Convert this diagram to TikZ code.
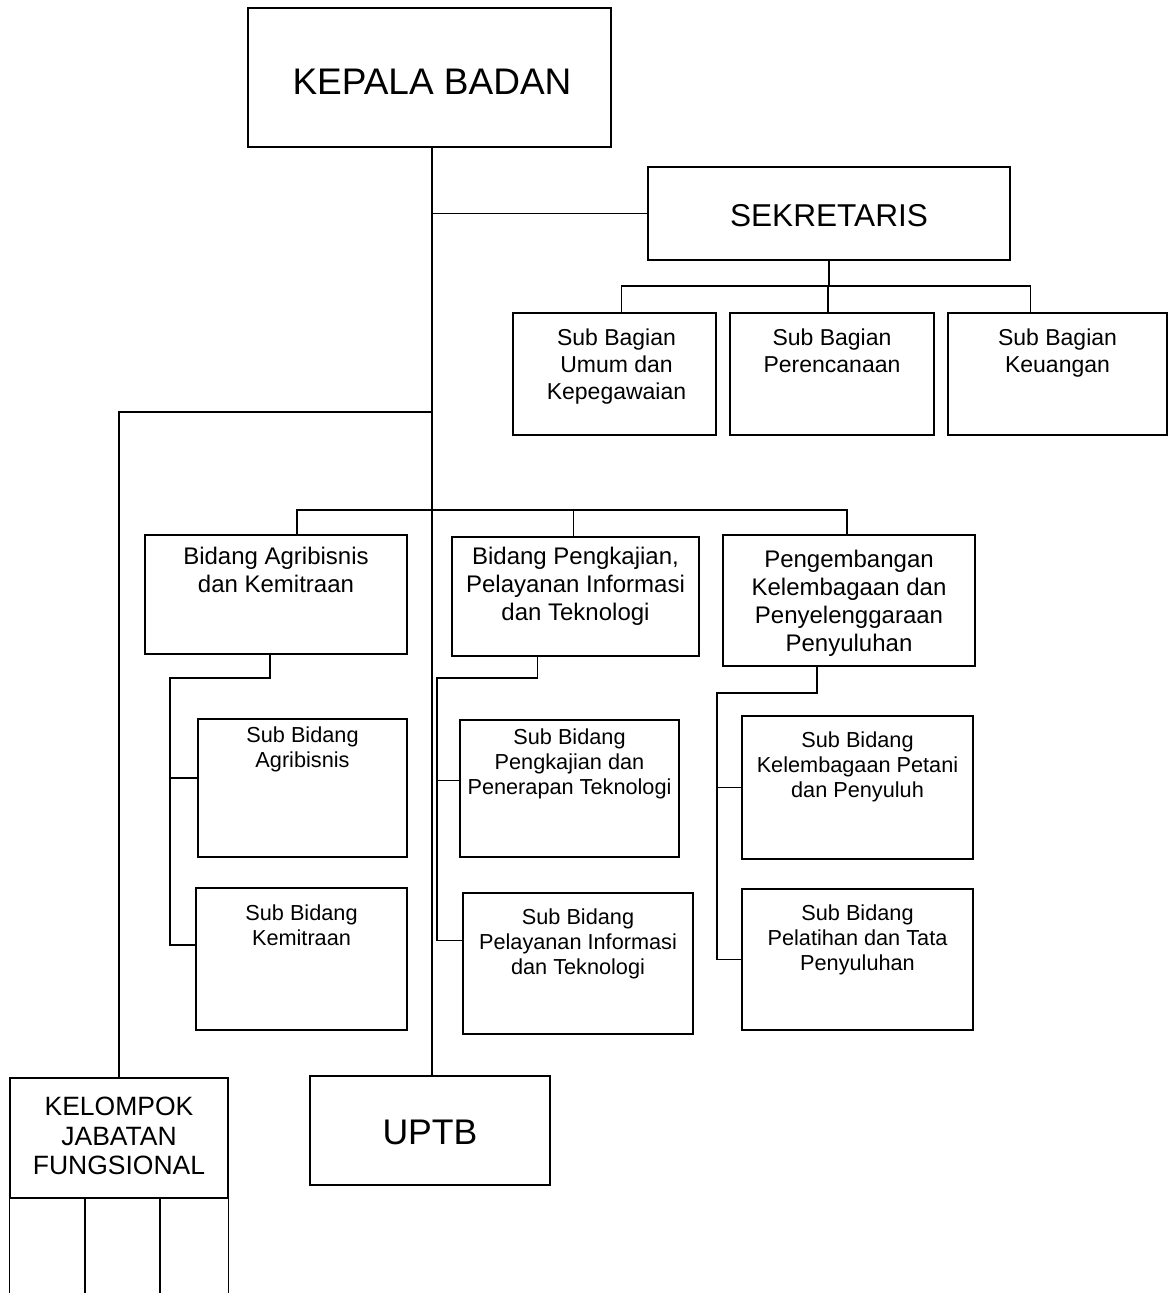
\documentclass[tikz,border=0pt]{standalone}
\usepackage{fontspec}
\setmainfont{Liberation Sans}
\usetikzlibrary{fit}
\begin{document}
\begin{tikzpicture}[x=1pt,y=-1pt,
  box/.style={draw, line width=1.3pt, inner sep=0pt},
  ln/.style={line width=1.3pt},
  txt/.style={anchor=north, align=center, inner sep=0pt},
  fsub/.style={font=\fontsize{23}{27}\selectfont},
  fsbd/.style={font=\fontsize{21.7}{25}\selectfont},
  fbid/.style={font=\fontsize{24}{28}\selectfont}]
\useasboundingbox (0,0) rectangle (1170,1293);
\fill[white] (0,0) rectangle (1170,1293);

% boxes
\node[box, fit={(248,8) (611,147)}] (kb) {};
\node[box, fit={(648,167) (1010,260)}] (sek) {};
\node[box, fit={(513,313) (716,435)}] (sb1) {};
\node[box, fit={(730,313) (934,435)}] (sb2) {};
\node[box, fit={(948,313) (1167,435)}] (sb3) {};
\node[box, fit={(145,535) (407,654)}] (bd1) {};
\node[box, fit={(452,537) (699,656)}] (bd2) {};
\node[box, fit={(723,535) (975,666)}] (bd3) {};
\node[box, fit={(198,719) (407,857)}] (sa1) {};
\node[box, fit={(196,888) (407,1030)}] (sa2) {};
\node[box, fit={(460,720) (679,857)}] (sp1) {};
\node[box, fit={(463,893) (693,1034)}] (sp2) {};
\node[box, fit={(742,716) (973,859)}] (sk1) {};
\node[box, fit={(742,889) (973,1030)}] (sk2) {};
\node[box, fit={(10,1078) (228,1198)}] (kjf) {};
\node[box, fit={(310,1076) (550,1185)}] (uptb) {};

% texts
\node[inner sep=0pt, font=\fontsize{37}{40}\selectfont] (tkb) at ([xshift=2.5,yshift=-4.5]kb.center) {KEPALA BADAN};
\node[inner sep=0pt, font=\fontsize{31.6}{34}\selectfont] (tsek) at ([yshift=-2.5]sek.center) {SEKRETARIS};
\node[inner sep=0pt, font=\fontsize{35.6}{38}\selectfont] (tuptb) at ([yshift=-1.5]uptb.center) {UPTB};
\node[txt, font=\fontsize{26.5}{29.5}\selectfont] (tkjf) at ([yshift=-19.5]kjf.north) {KELOMPOK\\JABATAN\\FUNGSIONAL};

\node[txt, fsub] (tsb1) at ([xshift=2,yshift=-16]sb1.north) {Sub Bagian\\Umum dan\\Kepegawaian};
\node[txt, fsub] (tsb2) at ([yshift=-16]sb2.north) {Sub Bagian\\Perencanaan};
\node[txt, fsub] (tsb3) at ([yshift=-16]sb3.north) {Sub Bagian\\Keuangan};

\node[txt, fbid] (tbd1) at ([yshift=-13]bd1.north) {Bidang Agribisnis\\dan Kemitraan};
\node[txt, fbid] (tbd2) at ([yshift=-11]bd2.north) {Bidang Pengkajian,\\Pelayanan Informasi\\dan Teknologi};
\node[txt, fbid] (tbd3) at ([yshift=-16]bd3.north) {Pengembangan\\Kelembagaan dan\\Penyelenggaraan\\Penyuluhan};

\node[txt, fsbd] (tsa1) at ([yshift=-8]sa1.north) {Sub Bidang\\Agribisnis};
\node[txt, fsbd] (tsa2) at ([yshift=-17.5]sa2.north) {Sub Bidang\\Kemitraan};
\node[txt, fsbd] (tsp1) at ([yshift=-9.5]sp1.north) {Sub Bidang\\Pengkajian dan\\Penerapan Teknologi};
\node[txt, fsbd] (tsp2) at ([yshift=-16.5]sp2.north) {Sub Bidang\\Pelayanan Informasi\\dan Teknologi};
\node[txt, fsbd] (tsk1) at ([yshift=-16.5]sk1.north) {Sub Bidang\\Kelembagaan Petani\\dan Penyuluh};
\node[txt, fsbd] (tsk2) at ([yshift=-16.5]sk2.north) {Sub Bidang\\Pelatihan dan Tata\\Penyuluhan};

% helper coordinates
\coordinate (trunk) at ([xshift=2.5]kb.south);
\coordinate (y286) at (0,286);
\coordinate (y412) at (0,412);
\coordinate (y510) at (0,510);
\coordinate (r1) at (170,678);
\coordinate (r2) at (437,678);
\coordinate (r3) at (717,693);
\coordinate (c1) at (85,1198);
\coordinate (c2) at (160,1198);
\coordinate (bot) at (0,1293);
\coordinate (ea1) at ([yshift=10]sa1.west);
\coordinate (ea2) at ([yshift=14]sa2.west);
\coordinate (ep1) at ([yshift=8]sp1.west);
\coordinate (ep2) at ([yshift=23]sp2.west);

% connectors
\draw[ln] (trunk) -- (trunk |- uptb.north);
\draw[ln] (trunk |- sek.west) -- (sek.west);
\draw[ln] (sek.south) -- (sek.south |- y286);
\draw[ln] ([xshift=7]sb1.north) |- (sek.south |- y286) -| ([xshift=-27]sb3.north);
\draw[ln] ([xshift=-4]sb2.north) -- ([xshift=-4]sb2.north |- y286);
\draw[ln] (trunk |- y412) -| (kjf.north);
\draw[ln] ([xshift=21]bd1.north) |- (trunk |- y510) -| ([xshift=-2]bd3.north);
\draw[ln] ([xshift=-2]bd2.north) -- ([xshift=-2]bd2.north |- y510);

\draw[ln] ([xshift=-6]bd1.south) |- (r1) -- (r1 |- ea2) -- (ea2);
\draw[ln] (r1 |- ea1) -- (ea1);

\draw[ln] ([xshift=-38]bd2.south) |- (r2) -- (r2 |- ep2) -- (ep2);
\draw[ln] (r2 |- ep1) -- (ep1);

\draw[ln] ([xshift=-32]bd3.south) |- (r3) -- (r3 |- sk2.west) -- (sk2.west);
\draw[ln] (r3 |- sk1.west) -- (sk1.west);

\draw[ln] (kjf.south west) -- (kjf.south west |- bot);
\draw[ln] (kjf.south east) -- (kjf.south east |- bot);
\draw[ln] (c1) -- (c1 |- bot);
\draw[ln] (c2) -- (c2 |- bot);
\end{tikzpicture}
\end{document}
